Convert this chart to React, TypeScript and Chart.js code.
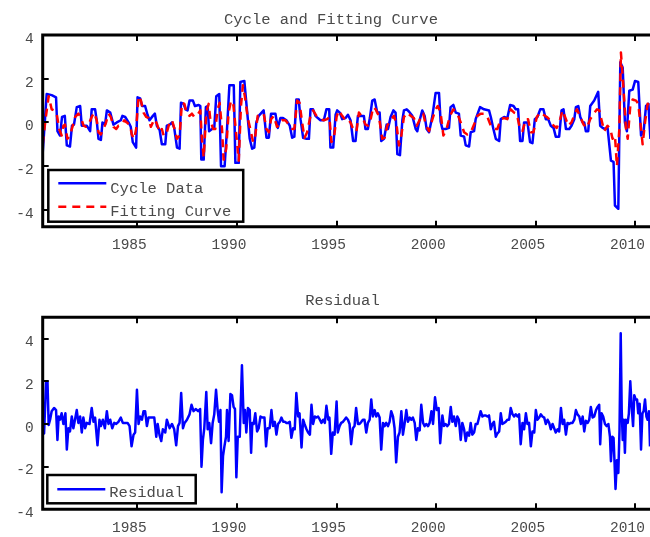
import React, { useEffect, useRef } from "react";
import { Chart, registerables } from "chart.js";

Chart.register(...registerables);

// ---------------- data (decimal years) ----------------
const cycleYears = [
  1980.25, 1980.45, 1980.7, 1980.92, 1980.99, 1981.12, 1981.22, 1981.36, 1981.46, 1981.62, 1981.72, 1981.82, 1981.96,
  1982.13, 1982.21, 1982.46, 1982.63, 1982.71, 1982.88, 1982.96, 1983.05, 1983.17, 1983.25, 1983.38, 1983.47, 1983.64,
  1983.8, 1983.97, 1984.17, 1984.25, 1984.39, 1984.56, 1984.67, 1984.77, 1984.94, 1985.01, 1985.14, 1985.24, 1985.39,
  1985.51, 1985.61, 1985.78, 1985.88, 1985.98, 1986.12, 1986.23, 1986.4, 1986.48, 1986.62, 1986.74, 1986.85, 1986.99,
  1987.12, 1987.19, 1987.32, 1987.42, 1987.52, 1987.62, 1987.79, 1987.89, 1988.08, 1988.16, 1988.21, 1988.33, 1988.44,
  1988.53, 1988.6, 1988.75, 1988.86, 1988.96, 1989.11, 1989.2, 1989.38, 1989.5, 1989.62, 1989.84, 1989.92, 1990.09,
  1990.17, 1990.37, 1990.5, 1990.64, 1990.76, 1990.87, 1990.97, 1991.09, 1991.34, 1991.48, 1991.6, 1991.71, 1991.93,
  1992.05, 1992.18, 1992.31, 1992.48, 1992.65, 1992.77, 1992.88, 1992.98, 1993.1, 1993.19, 1993.32, 1993.49, 1993.61,
  1993.69, 1993.82, 1993.94, 1994.06, 1994.19, 1994.36, 1994.49, 1994.63, 1994.69, 1994.83, 1994.95, 1995.03, 1995.16,
  1995.28, 1995.45, 1995.57, 1995.7, 1995.83, 1995.95, 1996.07, 1996.2, 1996.37, 1996.45, 1996.57, 1996.67, 1996.79,
  1996.91, 1997.04, 1997.16, 1997.24, 1997.38, 1997.51, 1997.58, 1997.71, 1997.85, 1997.96, 1998.05, 1998.18, 1998.3,
  1998.38, 1998.52, 1998.63, 1998.8, 1998.97, 1999.05, 1999.14, 1999.3, 1999.42, 1999.52, 1999.64, 1999.81, 1999.97,
  2000.14, 2000.22, 2000.31, 2000.47, 2000.64, 2000.72, 2000.86, 2000.98, 2001.14, 2001.23, 2001.4, 2001.48, 2001.65,
  2001.73, 2001.9, 2001.98, 2002.2, 2002.4, 2002.65, 2002.74, 2002.87, 2002.99, 2003.16, 2003.24, 2003.41, 2003.57,
  2003.71, 2003.88, 2003.99, 2004.11, 2004.21, 2004.33, 2004.41, 2004.58, 2004.71, 2004.83, 2004.95, 2005.08, 2005.22,
  2005.38, 2005.5, 2005.62, 2005.75, 2005.89, 2006.0, 2006.17, 2006.29, 2006.39, 2006.51, 2006.68, 2006.79, 2006.93,
  2007.01, 2007.13, 2007.23, 2007.35, 2007.43, 2007.51, 2007.63, 2007.73, 2007.93, 2008.13, 2008.23, 2008.35, 2008.47,
  2008.6, 2008.77, 2008.9, 2008.97, 2009.14, 2009.24, 2009.36, 2009.47, 2009.57, 2009.69, 2009.86, 2009.98, 2010.14,
  2010.28, 2010.41, 2010.53, 2010.65, 2010.75,
];
const cycleValues = [
  -1.4, 1.3, 1.25, 1.15, -0.4, -0.6, 0.25, 0.3, -1.05, -1.1, -0.15, -0.1, 0.7,
  0.75, -0.15, -0.15, -0.4, 0.6, 0.6, 0.1, -0.75, -0.8, 0, -0.1, 0.55, 0.45,
  -0.1, 0, 0.1, 0.3, 0.25, 0, -0.2, -0.9, -1.15, 1.15, 1.1, 0.75, 0.75,
  0.35, 0.1, 0.3, 0.4, -0.15, -0.35, -1.0, -1.0, -0.15, -0.1, 0, -0.25, -1.15,
  -1.2, 0.9, 0.85, 0.6, 0.55, 1.0, 1.0, 0.75, 0.8, 0.75, -1.7, -1.7, 0.7,
  0.75, -0.4, -0.3, -0.25, 1.2, 1.3, -2.0, -2.0, -0.3, 1.7, 1.7, -1.85, -1.85,
  1.85, 1.9, 0.6, -0.75, -1.2, -1.15, 0, 0.3, 0.55, -0.7, -0.7, 0.4, 0.4,
  -0.25, 0.2, 0.2, 0.1, -0.15, -0.7, -0.65, 1.05, 1.05, 0.15, -0.7, -0.75, -0.75,
  0.6, 0.6, 0.3, 0.2, 0.1, 0.1, 0.6, 0.6, -1.15, -1.15, 0.35, 0.55, 0.45,
  0.15, 0.2, 0.35, 0.1, -0.85, -0.85, 0.3, 0.3, 0.3, -0.3, -0.3, 0.2, 1.0,
  1.05, 0.45, 0.45, -0.85, -0.75, -0.1, -0.3, 0.25, 0.55, 0.45, -1.45, -1.5, 0.1,
  0.55, 0.6, 0.5, 0.3, -0.3, -0.4, 0, 0.55, 0.3, -0.3, -0.45, 0.3, 1.35,
  1.35, 0.05, -0.3, -0.3, -0.25, 0.7, 0.8, 0.45, 0.4, -0.6, -0.65, -1.05, -1.1,
  -0.45, -0.4, 0.15, 0.7, 0.6, 0.55, 0.25, -0.3, -0.75, -0.85, 0.15, 0.25, 0.2,
  0.8, 0.75, 0.6, 0.6, -0.85, -0.85, 0, 0, -0.9, -0.95, 0.15, 0.25, 0.6,
  0.6, 0.15, 0.15, -0.15, -0.25, -0.65, -0.65, 0.55, 0.6, -0.3, -0.3, -0.15, 0.15,
  0.7, 0.75, 0.25, 0, 0, -0.4, -0.4, 0.75, 1.0, 1.4, -0.15, -0.25, -0.3,
  -0.25, -1.75, -1.8, -3.8, -3.95, 2.75, 2.5, 0, -0.4, 1.45, 1.5, 1.9, 1.85,
  -0.6, -0.4, 0.75, 0.85, -0.75,
];

const fitYears = [
  1980.25, 1980.4, 1980.55, 1980.7, 1980.82, 1980.95, 1981.08, 1981.2, 1981.29, 1981.37, 1981.49, 1981.62, 1981.76,
  1981.88, 1982.04, 1982.16, 1982.3, 1982.43, 1982.55, 1982.71, 1982.83, 1982.96, 1983.05, 1983.17, 1983.3, 1983.43,
  1983.55, 1983.67, 1983.8, 1983.94, 1984.05, 1984.22, 1984.34, 1984.47, 1984.64, 1984.72, 1984.84, 1984.94, 1985.06,
  1985.18, 1985.31, 1985.45, 1985.56, 1985.68, 1985.85, 1985.98, 1986.12, 1986.23, 1986.32, 1986.45, 1986.62, 1986.74,
  1986.85, 1986.99, 1987.12, 1987.24, 1987.36, 1987.49, 1987.62, 1987.74, 1987.86, 1987.99, 1988.16, 1988.24, 1988.33,
  1988.46, 1988.58, 1988.66, 1988.8, 1988.91, 1989.03, 1989.13, 1989.25, 1989.33, 1989.46, 1989.58, 1989.7, 1989.82,
  1989.97, 1990.09, 1990.2, 1990.3, 1990.42, 1990.54, 1990.67, 1990.81, 1990.92, 1991.04, 1991.18, 1991.34, 1991.48,
  1991.6, 1991.71, 1991.85, 1992.01, 1992.15, 1992.26, 1992.43, 1992.6, 1992.77, 1992.88, 1993.02, 1993.14, 1993.27,
  1993.39, 1993.52, 1993.69, 1993.82, 1993.99, 1994.16, 1994.36, 1994.53, 1994.64, 1994.74, 1994.86, 1995.0, 1995.11,
  1995.28, 1995.45, 1995.57, 1995.7, 1995.87, 1996.0, 1996.12, 1996.29, 1996.45, 1996.57, 1996.71, 1996.84, 1996.96,
  1997.12, 1997.29, 1997.41, 1997.54, 1997.71, 1997.88, 1998.01, 1998.13, 1998.25, 1998.38, 1998.55, 1998.72, 1998.88,
  1999.02, 1999.19, 1999.35, 1999.47, 1999.64, 1999.81, 1999.97, 2000.08, 2000.22, 2000.36, 2000.52, 2000.69, 2000.86,
  2001.06, 2001.23, 2001.4, 2001.56, 2001.73, 2001.9, 2002.07, 2002.23, 2002.4, 2002.57, 2002.74, 2002.9, 2003.07,
  2003.24, 2003.41, 2003.57, 2003.74, 2003.91, 2004.04, 2004.21, 2004.33, 2004.5, 2004.61, 2004.75, 2004.88, 2005.05,
  2005.22, 2005.38, 2005.55, 2005.72, 2005.89, 2006.05, 2006.22, 2006.34, 2006.51, 2006.62, 2006.79, 2006.96, 2007.06,
  2007.23, 2007.4, 2007.56, 2007.73, 2007.9, 2008.07, 2008.18, 2008.3, 2008.43, 2008.6, 2008.74, 2008.85, 2008.97,
  2009.07, 2009.19, 2009.27, 2009.39, 2009.52, 2009.61, 2009.74, 2009.86, 2010.03, 2010.14, 2010.28, 2010.36, 2010.48,
  2010.61, 2010.75,
];
const fitValues = [
  -1.0, 0.2, 1.2, 0.6, 0.55, 0.4, -0.3, -0.6, -0.15, -0.1, -0.75, -0.6, -0.15,
  0.25, 0.4, 0.25, -0.15, -0.2, -0.1, 0.25, 0.45, 0.1, -0.45, -0.55, -0.3, 0,
  0.4, 0.25, -0.2, -0.3, -0.15, -0.1, 0.1, 0, -0.15, -0.55, -0.75, -0.3, 1.2,
  1.0, 0.45, 0.25, 0.2, -0.2, 0.15, -0.05, -0.45, -0.3, -0.6, -0.55, 0, 0.1,
  -0.25, -0.75, -0.6, 0.9, 0.85, 0.4, 0.3, 0.4, 0.25, 0.3, 0.55, -0.75, -1.6,
  0.45, 0.85, 0.15, -0.3, -0.3, 0.6, 0.9, -0.3, -1.7, -1.2, 0.45, 1.0, 0.8,
  -0.6, -1.75, 0.75, 1.7, 1.05, 0.2, -0.3, -0.9, -0.6, 0.3, 0.35, 0.4, -0.3,
  -0.45, 0.15, 0.3, -0.2, -0.1, 0.1, 0.1, -0.1, -0.3, -0.3, 1.0, 0.9, 0,
  -0.7, -0.45, 0.3, 0.55, 0.3, 0.15, 0.1, 0.15, 0.25, -0.9, -0.75, 0.25, 0.55,
  0.3, 0.1, 0.15, 0, -0.4, -0.4, 0.45, 0.25, -0.1, -0.15, 0.15, 0.7, 0.6,
  0.3, -0.75, -0.7, -0.15, 0.1, 0.3, -0.1, -1.05, -0.6, 0.25, 0.45, 0.3, 0.2,
  -0.15, 0.15, 0.4, -0.1, -0.4, 0.15, 0.6, 0.75, 0.45, -0.6, -0.3, 0.3, 0.6,
  0.4, 0, -0.45, -0.55, -0.45, -0.1, 0.3, 0.4, 0.4, 0.25, -0.15, -0.3, -0.3,
  0.15, 0.2, 0.15, 0.6, 0.45, 0.4, -0.3, -0.4, 0.15, 0.15, -0.45, -0.45, 0.25,
  0.45, 0.35, 0.25, 0.1, -0.15, -0.25, 0.15, 0.55, 0.15, -0.15, 0, 0.4, 0.6,
  0.25, -0.1, -0.25, 0.15, 0.4, 0.6, 0.55, 0.1, -0.4, -0.15, -0.3, -0.75, -0.6,
  -2.0, -0.3, 3.2, 1.7, -0.25, -0.75, 0.75, 1.05, 1.0, 0.85, -0.3, -1.0, 0,
  0.85, 0.75,
];

const residualYears = [
  1980.25, 1980.32, 1980.42, 1980.49, 1980.55, 1980.62, 1980.7, 1980.82, 1980.92, 1980.99, 1981.05, 1981.12, 1981.2,
  1981.29, 1981.39, 1981.46, 1981.54, 1981.62, 1981.71, 1981.79, 1981.87, 1981.96, 1982.04, 1982.13, 1982.21, 1982.29,
  1982.38, 1982.46, 1982.6, 1982.71, 1982.8, 1982.88, 1983.0, 1983.1, 1983.17, 1983.27, 1983.37, 1983.47, 1983.55,
  1983.64, 1983.74, 1983.84, 1983.94, 1984.05, 1984.17, 1984.27, 1984.39, 1984.51, 1984.61, 1984.71, 1984.81, 1984.89,
  1984.98, 1985.06, 1985.14, 1985.23, 1985.31, 1985.39, 1985.48, 1985.56, 1985.73, 1985.85, 1985.95, 1986.02, 1986.12,
  1986.2, 1986.28, 1986.4, 1986.48, 1986.62, 1986.74, 1986.85, 1986.95, 1987.04, 1987.12, 1987.2, 1987.29, 1987.37,
  1987.49, 1987.62, 1987.72, 1987.82, 1987.94, 1988.05, 1988.15, 1988.22, 1988.29, 1988.36, 1988.46, 1988.53, 1988.61,
  1988.7, 1988.78, 1988.86, 1988.95, 1989.03, 1989.1, 1989.17, 1989.23, 1989.3, 1989.37, 1989.45, 1989.5, 1989.58,
  1989.67, 1989.75, 1989.83, 1989.9, 1989.97, 1990.04, 1990.14, 1990.25, 1990.34, 1990.4, 1990.47, 1990.55, 1990.64,
  1990.71, 1990.77, 1990.84, 1990.92, 1991.01, 1991.09, 1991.18, 1991.28, 1991.38, 1991.46, 1991.54, 1991.64, 1991.73,
  1991.81, 1991.9, 1991.98, 1992.06, 1992.15, 1992.23, 1992.32, 1992.4, 1992.48, 1992.57, 1992.65, 1992.73, 1992.82,
  1992.9, 1992.98, 1993.07, 1993.14, 1993.24, 1993.32, 1993.39, 1993.49, 1993.57, 1993.66, 1993.74, 1993.82, 1993.91,
  1993.99, 1994.07, 1994.16, 1994.24, 1994.33, 1994.41, 1994.49, 1994.58, 1994.64, 1994.73, 1994.81, 1994.9, 1995.0,
  1995.06, 1995.15, 1995.23, 1995.32, 1995.4, 1995.48, 1995.57, 1995.65, 1995.73, 1995.82, 1995.9, 1995.98, 1996.07,
  1996.15, 1996.24, 1996.32, 1996.4, 1996.49, 1996.57, 1996.66, 1996.74, 1996.82, 1996.91, 1996.99, 1997.07, 1997.16,
  1997.24, 1997.33, 1997.41, 1997.49, 1997.58, 1997.66, 1997.74, 1997.83, 1997.91, 1997.99, 1998.08, 1998.16, 1998.25,
  1998.33, 1998.41, 1998.5, 1998.58, 1998.67, 1998.75, 1998.83, 1998.92, 1999.0, 1999.08, 1999.17, 1999.25, 1999.34,
  1999.42, 1999.5, 1999.59, 1999.67, 1999.76, 1999.84, 1999.94, 2000.03, 2000.12, 2000.2, 2000.31, 2000.39, 2000.47,
  2000.56, 2000.64, 2000.73, 2000.81, 2000.89, 2000.98, 2001.06, 2001.14, 2001.23, 2001.31, 2001.4, 2001.48, 2001.56,
  2001.65, 2001.73, 2001.81, 2001.9, 2001.98, 2002.07, 2002.15, 2002.23, 2002.32, 2002.4, 2002.49, 2002.57, 2002.65,
  2002.74, 2002.82, 2002.9, 2002.99, 2003.07, 2003.16, 2003.24, 2003.32, 2003.41, 2003.49, 2003.57, 2003.66, 2003.74,
  2003.83, 2003.91, 2003.99, 2004.08, 2004.16, 2004.24, 2004.33, 2004.41, 2004.5, 2004.58, 2004.66, 2004.75, 2004.83,
  2004.92, 2005.0, 2005.08, 2005.17, 2005.25, 2005.33, 2005.42, 2005.5, 2005.59, 2005.67, 2005.75, 2005.84, 2005.92,
  2006.0, 2006.09, 2006.17, 2006.26, 2006.34, 2006.42, 2006.51, 2006.59, 2006.67, 2006.76, 2006.84, 2006.93, 2007.01,
  2007.09, 2007.18, 2007.26, 2007.35, 2007.43, 2007.51, 2007.6, 2007.68, 2007.76, 2007.85, 2007.93, 2008.02, 2008.1,
  2008.18, 2008.23, 2008.3, 2008.38, 2008.47, 2008.55, 2008.64, 2008.72, 2008.77, 2008.84, 2008.9, 2008.95, 2009.0,
  2009.07, 2009.14, 2009.2, 2009.26, 2009.31, 2009.36, 2009.41, 2009.47, 2009.52, 2009.61, 2009.67, 2009.74, 2009.81,
  2009.88, 2009.94, 2010.01, 2010.08, 2010.14, 2010.21, 2010.28, 2010.35, 2010.41, 2010.48, 2010.55, 2010.61, 2010.68,
  2010.73,
];
const residualValues = [
  0, -0.45, 2.0, 2.0, -0.05, 0.2, 0.6, 0.75, 0.65, -0.75, 0.35, 0.2, 0.5,
  0, 0.5, -1.2, -0.2, -0.35, 0.35, -0.2, 0.2, 0.65, 0.05, 0.35, -0.4, 0.3,
  -0.2, 0.05, 0, 0.75, 0.1, 0.3, -1.0, 0.2, -0.1, 0.2, -0.2, 0.6, 0,
  0.2, -0.2, 0.05, 0, 0.1, 0.3, 0.05, 0.05, 0.05, -0.1, -1.05, -0.5, -0.4,
  1.6, 0, 0.35, 0.2, 0.6, 0.6, -0.1, 0.3, 0.3, 0.3, -0.6, 0, -0.55,
  -0.8, -0.25, -0.4, 0.2, -0.2, 0, -0.25, -1.0, -0.1, 0.05, 1.45, -0.2, 0.05,
  0.2, 0.45, 0.9, 0.6, 0.7, 0.6, 0.7, -2.0, -0.75, -0.2, 1.5, -0.25, 0.05,
  -0.9, 0.05, 0.45, 1.6, 0.65, 0.1, 0.65, -3.2, -1.5, -1.05, -0.6, 0.65, -0.8,
  1.4, 1.35, 0.8, 0.7, -2.5, -0.6, -0.6, 2.75, 0.05, 0.65, -0.4, 0.75, 0.65,
  -1.35, 0.05, 0, 0.5, -0.35, -0.2, 0.35, 0.3, 0.3, -1.05, -0.2, -0.2, 0.65,
  -0.1, 0.1, -0.5, 0, 0.1, 0.3, 0.1, 0.1, 0.05, 0.05, 0.1, -0.65, -0.2,
  -0.25, 1.45, 0.35, 0.5, -1.1, 0.2, 0, -0.25, -0.4, -0.5, 0.9, 0, 0.35,
  0.3, 0.35, 0.2, 0.05, 0.2, 0.05, 0.85, 0.2, 0.3, -1.4, -0.4, -0.5, 1.05,
  -0.4, -0.1, 0.05, 0.1, 0.2, 0.3, 0.2, 0, -0.95, -0.2, -0.1, 0.75, 0,
  0, 0.1, 0.2, 0.2, -0.4, 0.05, 0.2, 1.15, 0.35, 0.65, 0.35, 0.5, 0.3,
  -1.2, 0.05, -0.1, 0.05, -0.1, 0.1, 0.6, 0.35, -0.2, -1.8, -0.6, -0.4, 0.6,
  -0.5, 0, 0.65, 0.1, 0.3, 0.2, 0.3, 0.05, -0.75, -0.2, -0.3, 0.9, 0.05,
  -0.1, 0, -0.1, 0.05, 0.6, 0, 1.25, 0.65, 0.75, -0.9, 0.4, -0.1, 0,
  -0.1, 0, 0.8, 0.1, 0.35, -0.1, 0.35, 0.2, -0.75, 0.05, -0.25, -0.8, -0.4,
  -0.55, 0.05, -0.5, -0.4, 0, 0, 0.3, 0.6, 0.35, 0.4, 0.4, 0.35, 0.4,
  -0.25, 0, 0.1, -0.6, -0.45, -0.35, 0.5, 0, 0.05, 0.1, 0.2, 0.2, 0.75,
  0.45, 0.35, 0.45, 0.35, 0.45, -0.95, 0.05, -0.25, 0.5, 0, 0.05, -1.05, -0.35,
  -0.4, 0.65, 0.2, 0.3, 0.45, 0.35, 0.3, 0, 0.2, 0.05, -0.25, 0, -0.2,
  -0.4, -0.25, -0.35, 0.75, 0, 0.2, -0.5, 0.05, 0, 0.05, 0.05, 0.2, 0.65,
  0.45, 0.35, 0, 0.35, -0.35, 0.15, 0.05, 0.2, 0.8, 0.3, 0.35, 0.65, 0.8,
  0.9, -0.95, 0.5, 0.35, 0, -0.1, 0, -0.6, -1.75, -0.6, -0.65, -1.8, -3.05,
  -1.7, -2.3, -0.25, 4.25, 0.65, -0.75, 0.2, -1.35, 0.2, 0.05, 0.5, 2.0, 0.8,
  -0.1, 1.35, 1.15, 1.15, 0.5, 0.95, -1.2, 0.5, 0.6, 1.15, 0.35, 0.2, 0.6,
  -1.05,
];

const xTickYears = [1985, 1990, 1995, 2000, 2005, 2010];
const topYTicks = [-4, -2, 0, 2, 4];
const bottomYTicks = [-4, -2, 0, 2, 4];
const xRange = [1980.25, 2010.83];
const topYRange = [-4.77, 4];
const bottomYRange = [-4, 5];

const topTitle = "Cycle and Fitting Curve";
const bottomTitle = "Residual";
const cycleLabel = "Cycle Data";
const fitLabel = "Fitting Curve";
const residualLabel = "Residual";

// ---------------- helpers ----------------
const MONO = '"Liberation Mono", "DejaVu Sans Mono", monospace';
const TEXT = "#4a4a4a";

function pairs(xs: number[], ys: number[]) {
  return xs.map((x, i) => ({ x, y: ys[i] }));
}

type LegendItem = { label: string; color: string; dash: number[] };
type DecorCfg = {
  title: string;
  titleX: number;
  titleY: number;
  legend: LegendItem[];
  legendBox: { dx: number; dyBottom: number; h: number; lineY: number[]; textY: number[] };
};

function makeDecor(cfg: DecorCfg) {
  return {
    id: "decor",
    afterDraw(chart: any) {
      const { ctx, chartArea: a, scales } = chart;
      const xs = scales.x;
      const ys = scales.y;
      ctx.save();
      // frame (right side is cut off by the picture)
      ctx.strokeStyle = "#000";
      ctx.lineWidth = 3;
      ctx.lineJoin = "miter";
      ctx.beginPath();
      ctx.moveTo(a.right + 20, a.top);
      ctx.lineTo(a.left, a.top);
      ctx.lineTo(a.left, a.bottom);
      ctx.lineTo(a.right + 20, a.bottom);
      ctx.stroke();
      // inward ticks
      ctx.lineWidth = 2;
      ctx.beginPath();
      xs.ticks.forEach((_: any, i: number) => {
        const px = Math.round(xs.getPixelForTick(i));
        ctx.moveTo(px, a.bottom);
        ctx.lineTo(px, a.bottom - 6);
        ctx.moveTo(px, a.top);
        ctx.lineTo(px, a.top + 6);
      });
      ys.ticks.forEach((_: any, i: number) => {
        const py = Math.round(ys.getPixelForTick(i));
        ctx.moveTo(a.left, py);
        ctx.lineTo(a.left + 6, py);
      });
      ctx.stroke();

      // title
      ctx.font = `15.5px ${MONO}`;
      ctx.fillStyle = TEXT;
      ctx.textAlign = "center";
      ctx.textBaseline = "middle";
      ctx.fillText(cfg.title, cfg.titleX, cfg.titleY);

      // legend
      const lb = cfg.legendBox;
      ctx.font = `15.5px ${MONO}`;
      let maxW = 0;
      cfg.legend.forEach((it) => (maxW = Math.max(maxW, ctx.measureText(it.label).width)));
      const bx = a.left + lb.dx;
      const by = a.bottom - lb.dyBottom - lb.h;
      const bw = 62 + maxW + 12;
      ctx.fillStyle = "#fff";
      ctx.fillRect(bx, by, bw, lb.h);
      ctx.strokeStyle = "#000";
      ctx.lineWidth = 2.5;
      ctx.strokeRect(bx, by, bw, lb.h);
      cfg.legend.forEach((it, i) => {
        ctx.strokeStyle = it.color;
        ctx.lineWidth = 2.5;
        ctx.setLineDash(it.dash);
        ctx.beginPath();
        ctx.moveTo(bx + 10, by + lb.lineY[i]);
        ctx.lineTo(bx + 58, by + lb.lineY[i]);
        ctx.stroke();
        ctx.setLineDash([]);
        ctx.fillStyle = TEXT;
        ctx.textAlign = "left";
        ctx.textBaseline = "middle";
        ctx.fillText(it.label, bx + 62, by + lb.textY[i]);
      });
      ctx.restore();
    },
  };
}

function buildConfig(opts: {
  datasets: any[];
  yRange: number[];
  yTicks: number[];
  padTop: number;
  xAxisHeight: number;
  decor: DecorCfg;
}) {
  const tickFont = { family: MONO, size: 14.5, lineHeight: 1.2 };
  return {
    type: "line",
    data: { datasets: opts.datasets },
    options: {
      responsive: false,
      animation: false,
      devicePixelRatio: 1,
      parsing: true,
      layout: { padding: { top: opts.padTop, right: 28, left: 0, bottom: 0 } },
      plugins: { legend: { display: false }, tooltip: { enabled: false }, title: { display: false } },
      elements: { point: { radius: 0, hoverRadius: 0 }, line: { tension: 0, borderJoinStyle: "round" } },
      scales: {
        x: {
          type: "linear",
          min: xRange[0],
          max: xRange[1],
          grid: { display: false, drawTicks: false },
          border: { display: false },
          afterBuildTicks: (s: any) => {
            s.ticks = xTickYears.map((v) => ({ value: v }));
          },
          afterFit: (s: any) => {
            s.height = opts.xAxisHeight;
          },
          ticks: {
            autoSkip: false,
            maxRotation: 0,
            padding: 10,
            labelOffset: -8,
            color: TEXT,
            font: tickFont,
            callback: (v: any) => String(v),
          },
        },
        y: {
          type: "linear",
          min: opts.yRange[0],
          max: opts.yRange[1],
          grid: { display: false, drawTicks: false },
          border: { display: false },
          afterBuildTicks: (s: any) => {
            s.ticks = opts.yTicks.map((v) => ({ value: v }));
          },
          afterFit: (s: any) => {
            s.width = 42.7;
          },
          ticks: {
            padding: 9,
            labelOffset: 4,
            color: TEXT,
            font: tickFont,
            callback: (v: any) => String(v),
          },
        },
      },
    },
    plugins: [makeDecor(opts.decor)],
  };
}

export default function App() {
  const topRef = useRef<HTMLCanvasElement | null>(null);
  const botRef = useRef<HTMLCanvasElement | null>(null);

  useEffect(() => {
    const top = new Chart(
      topRef.current as HTMLCanvasElement,
      buildConfig({
        datasets: [
          {
            label: fitLabel,
            data: pairs(fitYears, fitValues),
            borderColor: "#ff0000",
            borderWidth: 2.5,
            borderDash: [8, 6],
            fill: false,
            order: 0,
          },
          {
            label: cycleLabel,
            data: pairs(cycleYears, cycleValues),
            borderColor: "#0000ff",
            borderWidth: 2.5,
            fill: false,
            order: 1,
          },
        ],
        yRange: topYRange,
        yTicks: topYTicks,
        padTop: 35,
        xAxisHeight: 265 - 226.7,
        decor: {
          title: topTitle,
          titleX: 331,
          titleY: 20,
          legend: [
            { label: cycleLabel, color: "#0000ff", dash: [] },
            { label: fitLabel, color: "#ff0000", dash: [8, 6] },
          ],
          legendBox: { dx: 5.6, dyBottom: 5, h: 51.7, lineY: [13.3, 36.7], textY: [19.3, 41.7] },
        },
      }) as any
    );
    const bottom = new Chart(
      botRef.current as HTMLCanvasElement,
      buildConfig({
        datasets: [
          {
            label: residualLabel,
            data: pairs(residualYears, residualValues),
            borderColor: "#0000ff",
            borderWidth: 2.5,
            fill: false,
          },
        ],
        yRange: bottomYRange,
        yTicks: bottomYTicks,
        padTop: 47.3,
        xAxisHeight: 267 - 239.3,
        decor: {
          title: bottomTitle,
          titleX: 342.5,
          titleY: 30.7,
          legend: [{ label: residualLabel, color: "#0000ff", dash: [] }],
          legendBox: { dx: 4.6, dyBottom: 6, h: 28.3, lineY: [14.3], textY: [18.3] },
        },
      }) as any
    );
    return () => {
      top.destroy();
      bottom.destroy();
    };
  }, []);

  return (
    <div
      style={{
        position: "fixed",
        left: 0,
        top: 0,
        width: 650,
        height: 537,
        overflow: "hidden",
        background: "#fff",
      }}
    >
      <canvas
        ref={topRef}
        width={680}
        height={265}
        style={{ position: "absolute", left: 0, top: 0, width: 680, height: 265 }}
      />
      <canvas
        ref={botRef}
        width={680}
        height={267}
        style={{ position: "absolute", left: 0, top: 270, width: 680, height: 267 }}
      />
    </div>
  );
}
